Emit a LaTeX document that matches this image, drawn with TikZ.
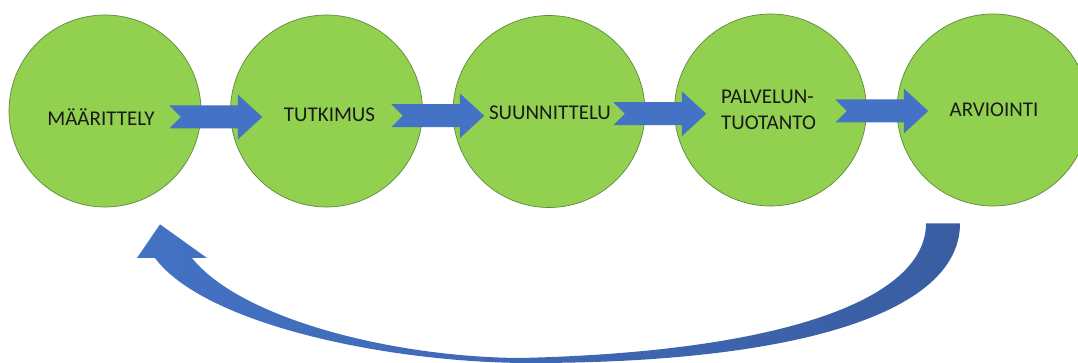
\documentclass[tikz,border=0pt]{standalone}
\usepackage{fontspec}
\setmainfont{Carlito}
\usetikzlibrary{calc}
\definecolor{cgreen}{HTML}{92D050}
\definecolor{cedge}{HTML}{5E8A3C}
\definecolor{ablue}{HTML}{4472C4}
\definecolor{ablueDark}{HTML}{3A5DA2}
\definecolor{txt}{HTML}{1A1A1A}
\begin{document}
\begin{tikzpicture}[x=1pt,y=-1pt,
  stage/.style={circle,fill=cgreen,draw=cedge,line width=0.7pt,minimum size=192pt,inner sep=0pt},
  lbl/.style={font=\fontsize{21}{26}\selectfont,text=txt,inner sep=0pt,align=left},
  notcharrow/.pic={\fill[ablue] (-46.5,-11.5) -- (22,-11.5) -- (22,-22.5) -- (46.5,0) -- (22,22.5) -- (22,11.5) -- (-46.5,11.5) -- (-35,0) -- cycle;}]
\useasboundingbox (0,0) rectangle (1078,363);
\clip (0,0) rectangle (1078,363);
\fill[white] (0,0) rectangle (1078,363);
% stages
\node[stage] (c1) at (105,111) {};
\node[stage] (c2) at (326.5,111) {};
\node[stage] (c3) at (549,111.5) {};
\node[stage] (c4) at (770.5,110) {};
\node[stage] (c5) at (993,110) {};
% forward arrows
\pic at ($(c1.east)!0.5!(c2.west)+(0,6)$) {notcharrow};
\pic at ($(c2.east)!0.5!(c3.west)+(0,4.5)$) {notcharrow};
\pic at ($(c3.east)!0.5!(c4.west)+(0,3)$) {notcharrow};
\pic at ($(c4.east)!0.5!(c5.west)+(0,1)$) {notcharrow};
% labels
\node[lbl] (t1) at ($(c1)+(-4,6)$) {MÄÄRITTELY};
\node[lbl] (t2) at ($(c2)+(3,4)$) {TUTKIMUS};
\node[lbl] (t3) at ($(c3)+(1,1.5)$) {SUUNNITTELU};
\node[lbl] (t4) at ($(c4)+(-2,0)$) {PALVELUN-\\TUOTANTO};
\node[lbl] (t5) at ($(c5)+(1,0)$) {ARVIOINTI};
% return arrow from c5 back to c1
\coordinate (rs) at ($(c5.south)+(-50,17)$);
\coordinate (rt) at ($(c1.south)+(55,17)$);
\shade[left color=ablue, middle color=ablue, right color=ablueDark, shading angle=90]
  ($(rs)+(17,0)$) .. controls (960,315) and (790,363) .. (530,363)
  .. controls (390,363) and (205,325) .. (155,258)
  -- (137,258) -- (rt) -- (207,258) -- (192,258)
  .. controls (240,318) and (390,357) .. (520,358)
  .. controls (780,352) and (926,300) .. ($(rs)+(-17,0)$) -- cycle;
\end{tikzpicture}
\end{document}
